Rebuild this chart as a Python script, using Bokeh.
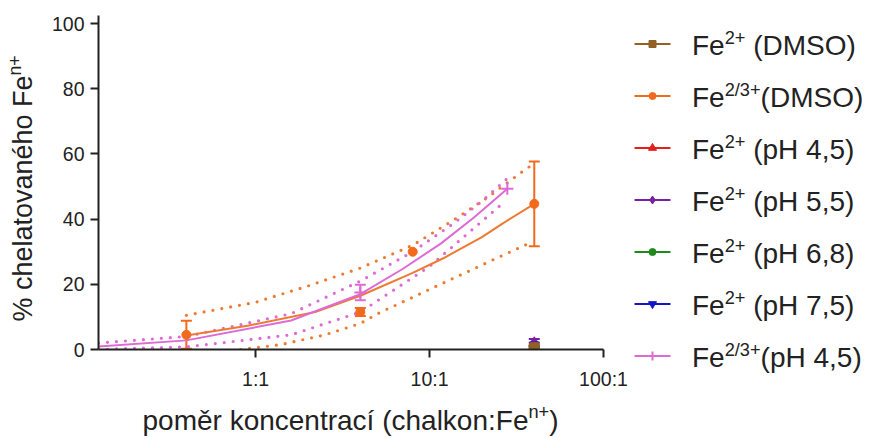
import numpy as np
from bokeh.plotting import figure
from bokeh.models import FixedTicker, Whisker, ColumnDataSource, TeeHead, Range1d
from bokeh.layouts import row, column
from bokeh.core.properties import value
from bokeh.embed import file_html
from bokeh.resources import INLINE

# ---------------- data ----------------
x_ticks = [1, 10, 100]
x_tick_labels = ["1:1", "10:1", "100:1"]
y_ticks = [0, 20, 40, 60, 80, 100]

# Fe2+ series measured only at 40:1
fe2_x = [40]
fe2_dmso_y = [0.7];   fe2_dmso_err = [0.4]
fe2_ph45_y = [0.8];   fe2_ph45_err = [0.5]
fe2_ph55_y = [2.2];   fe2_ph55_err = [1.0]
fe2_ph68_y = [0.6];   fe2_ph68_err = [0.3]
fe2_ph75_y = [1.5];   fe2_ph75_err = [0.6]

# Fe2/3+ (DMSO)
dmso23_x = [0.4, 4, 8, 40]
dmso23_y = [4.5, 11.5, 30.0, 44.7]
dmso23_err = [4.3, 1.2, 0.0, 13.0]
dmso23_fit_x = [0.4, 0.9, 2.2, 4, 8, 12, 20, 26, 40]
dmso23_fit_y = [4.3, 7.3, 11.5, 16.5, 23.5, 28.0, 34.5, 38.5, 44.7]
dmso23_hi_x = [0.4, 1, 2, 4, 8, 14, 22, 36, 40]
dmso23_hi_y = [10.5, 14.5, 19.5, 25.0, 32.0, 40.0, 47.0, 55.5, 57.0]
dmso23_lo_x = [0.82, 1.4, 2.5, 4, 5.2, 8, 11, 16, 24, 38]
dmso23_lo_y = [0.0, 1.5, 4.5, 8.0, 11.4, 16.0, 19.5, 23.5, 27.9, 32.8]

# Fe2/3+ (pH 4,5)
ph45_23_x = [4, 28]
ph45_23_y = [17.5, 49.3]
ph45_23_err = [2.4, 0.0]
ph45_23_fit_x = [0.125, 0.4, 1.6, 4, 7, 11.6, 18, 28]
ph45_23_fit_y = [0.9, 2.8, 8.9, 17.0, 24.7, 32.5, 40.5, 49.3]
ph45_23_hi_x = [0.125, 0.4, 1.6, 4, 8, 14, 20, 28]
ph45_23_hi_y = [2.0, 4.0, 11.0, 21.0, 30.0, 39.0, 45.5, 52.5]
ph45_23_lo_x = [0.125, 0.4, 1.6, 4, 10, 26]
ph45_23_lo_y = [0.0, 0.8, 4.5, 11.5, 25.5, 44.6]

# legend
leg_main = ["Fe"] * 7
leg_sup = ["2+", "2/3+", "2+", "2+", "2+", "2+", "2/3+"]
leg_rest = [" (DMSO)", "(DMSO)", " (pH 4,5)", " (pH 5,5)", " (pH 6,8)", " (pH 7,5)", "(pH 4,5)"]

# axis titles (main text, superscript, closing text)
xtitle = ["poměr koncentrací (chalkon:Fe", "n+", ")"]
ytitle = ["% chelatovaného Fe", "n+", ""]

# ---------------- styles ----------------
C_BROWN = "#936126"
C_ORANGE = "#F26A1B"
C_ORANGE_L = "#EE7A32"
C_RED = "#E3201C"
C_PURPLE = "#7B1FA2"
C_GREEN = "#1E8A1E"
C_BLUE = "#1616C4"
C_PINK = "#DE6AD6"
TXT = "#222222"
FONT = "Liberation Sans"
BASE_FIX = 0.41  # empirical shift (em) so that the given y is the alphabetic baseline

W = {'F': 611, 'e': 556, '2': 556, '3': 556, '/': 278, '+': 584, ' ': 278, '(': 333, ')': 333,
     'D': 722, 'M': 833, 'S': 667, 'O': 778, 'p': 556, 'H': 722, '4': 556, ',': 278, '5': 556,
     '6': 556, '8': 556, '7': 556, 'n': 556, 'o': 556, 'm': 833, 'ě': 556, 'r': 333, 'k': 500,
     'c': 500, 't': 278, 'a': 556, 'í': 278, 'h': 556, 'l': 222, ':': 278, '%': 889, 'v': 500,
     'é': 556}


def tw(s, size):
    return sum(W.get(ch, 556) for ch in s) / 1000.0 * size


def no_align(fig):
    try:
        fig.frame_align = False
    except Exception:
        pass


def blank_fig(w, h, xr, yr):
    f = figure(width=w, height=h, x_range=Range1d(*xr), y_range=Range1d(*yr),
               x_axis_location=None, y_axis_location=None, min_border=0,
               toolbar_location=None, output_backend="svg")
    f.outline_line_color = None
    f.grid.visible = False
    no_align(f)
    return f


LAB = 28


def sup_pieces(parts, size, x0):
    """pieces of a text with a superscript: (position along text, raise, text, size)"""
    sup = 0.65 * size
    raise_ = 0.43 * size
    out = []
    pos = x0
    for s, sz, r in zip(parts, [size, sup, size], [0, raise_, 0]):
        lead = len(s) - len(s.lstrip(" "))
        pos += tw(" " * lead, sz)
        s2 = s.strip(" ")
        if s2:
            out.append((pos, r + BASE_FIX * sz, s2, sz))
        pos += tw(s2, sz)
    return out, pos - x0


# ---------------- main plot ----------------
# page split: y-title 0..48, main 48..630, legend 630..871; x-title 400..439
p = figure(width=582, height=400, x_axis_type="log", x_range=Range1d(0.125, 100),
           y_range=Range1d(0, 102.5), output_backend="svg", toolbar_location=None,
           min_border_left=49, min_border_right=27, min_border_top=15, min_border_bottom=51)
p.outline_line_color = None
p.grid.visible = False
no_align(p)

for ax in (p.xaxis[0], p.yaxis[0]):
    ax.axis_line_width = 2
    ax.axis_line_color = TXT
    ax.major_tick_line_width = 2
    ax.major_tick_line_color = TXT
    ax.major_tick_out = 8
    ax.major_tick_in = 0
    ax.minor_tick_line_color = None
    ax.major_label_text_font = FONT
    ax.major_label_text_font_size = "19.5px"
    ax.major_label_text_color = TXT

p.xaxis.ticker = FixedTicker(ticks=x_ticks, minor_ticks=[])
p.xaxis.major_label_overrides = {t: l for t, l in zip(x_ticks, x_tick_labels)}
p.xaxis.major_label_standoff = 10
p.yaxis.ticker = FixedTicker(ticks=y_ticks, minor_ticks=[])
p.yaxis.major_label_standoff = 6

dot = dict(line_dash="0 9", line_cap="round", line_width=3.2)
p.line(dmso23_hi_x, dmso23_hi_y, line_color=C_ORANGE_L, **dot)
p.line(dmso23_lo_x, dmso23_lo_y, line_color=C_ORANGE_L, **dot)
p.line(ph45_23_hi_x, ph45_23_hi_y, line_color=C_PINK, **dot)
p.line(ph45_23_lo_x, ph45_23_lo_y, line_color=C_PINK, **dot)
p.line(dmso23_fit_x, dmso23_fit_y, line_color=C_ORANGE_L, line_width=2)
p.line(ph45_23_fit_x, ph45_23_fit_y, line_color=C_PINK, line_width=2)


def whiskers(xs, ys, es, color):
    sel = [(x, y, e) for x, y, e in zip(xs, ys, es) if e > 0]
    if not sel:
        return
    src = ColumnDataSource(dict(x=[s[0] for s in sel],
                                lo=[max(s[1] - s[2], 0) for s in sel],
                                hi=[s[1] + s[2] for s in sel]))
    w = Whisker(base="x", lower="lo", upper="hi", source=src, dimension="height",
                line_color=color, line_width=2,
                upper_head=TeeHead(size=11, line_color=color, line_width=2),
                lower_head=TeeHead(size=11, line_color=color, line_width=2))
    p.add_layout(w)


whiskers(dmso23_x, dmso23_y, dmso23_err, C_ORANGE)
whiskers(ph45_23_x, ph45_23_y, ph45_23_err, C_PINK)
whiskers(fe2_x, fe2_ph55_y, fe2_ph55_err, C_PURPLE)
whiskers(fe2_x, fe2_ph75_y, fe2_ph75_err, C_BLUE)
whiskers(fe2_x, fe2_ph45_y, fe2_ph45_err, C_RED)
whiskers(fe2_x, fe2_ph68_y, fe2_ph68_err, C_GREEN)
whiskers(fe2_x, fe2_dmso_y, fe2_dmso_err, C_BROWN)

p.scatter(dmso23_x, dmso23_y, marker="circle", size=9, fill_color=C_ORANGE, line_color=C_ORANGE)
p.scatter(ph45_23_x, ph45_23_y, marker="cross", size=12, line_color=C_PINK, line_width=2)
p.scatter(fe2_x, fe2_ph55_y, marker="diamond", size=11, fill_color=C_PURPLE, line_color=C_PURPLE)
p.scatter(fe2_x, fe2_ph75_y, marker="inverted_triangle", size=9, fill_color=C_BLUE, line_color=C_BLUE)
p.scatter(fe2_x, fe2_ph45_y, marker="triangle", size=9, fill_color=C_RED, line_color=C_RED)
p.scatter(fe2_x, fe2_ph68_y, marker="circle", size=8, fill_color=C_GREEN, line_color=C_GREEN)
p.scatter(fe2_x, fe2_dmso_y, marker="square", size=9, fill_color=C_BROWN, line_color=C_BROWN)

# ---------------- y title panel ----------------
yl = blank_fig(48, 400, (0, 48), (400, 0))
YLAB = 27
pieces, total = sup_pieces(ytitle, YLAB, 0)
start = 188 + total / 2
yl.text(x=[33.5 - r for _, r, _, _ in pieces], y=[start - pos for pos, _, _, _ in pieces],
        text=[t for _, _, t, _ in pieces], text_font_size=[f"{sz:.1f}px" for *_, sz in pieces],
        text_font=value(FONT), text_color=TXT, text_baseline="alphabetic",
        text_align="left", angle=np.pi / 2)

# ---------------- x title panel ----------------
xl = blank_fig(871, 39, (0, 871), (439, 400))
pieces, total = sup_pieces(xtitle, LAB, 0)
start = 350 - total / 2
xl.text(x=[start + pos for pos, _, _, _ in pieces], y=[431 - r for _, r, _, _ in pieces],
        text=[t for _, _, t, _ in pieces], text_font_size=[f"{sz:.1f}px" for *_, sz in pieces],
        text_font=value(FONT), text_color=TXT, text_baseline="alphabetic", text_align="left")

# ---------------- legend panel ----------------
lg = blank_fig(241, 400, (630, 871), (400, 0))

leg_colors = [C_BROWN, C_ORANGE, C_RED, C_PURPLE, C_GREEN, C_BLUE, C_PINK]
leg_markers = ["square", "circle", "triangle", "diamond", "circle", "inverted_triangle", "cross"]
leg_sizes = [7, 7, 8, 8, 7, 8, 9]
row_y = [43.5 + 52 * i for i in range(7)]

lg.segment(x0=[634] * 7, y0=row_y, x1=[670] * 7, y1=row_y, line_color=leg_colors, line_width=2)
for i in range(7):
    if leg_markers[i] == "cross":
        lg.scatter([652], [row_y[i]], marker="cross", size=leg_sizes[i],
                   line_color=leg_colors[i], line_width=2)
    else:
        lg.scatter([652], [row_y[i]], marker=leg_markers[i], size=leg_sizes[i],
                   fill_color=leg_colors[i], line_color=leg_colors[i])

tx, ty, tt, ts = [], [], [], []
for i in range(7):
    pieces, _ = sup_pieces([leg_main[i], leg_sup[i], leg_rest[i]], LAB, 691.5)
    base = row_y[i] + 13.3
    for pos, r, t, sz in pieces:
        tx.append(pos); ty.append(base - r); tt.append(t); ts.append(f"{sz:.1f}px")

lg.text(x=tx, y=ty, text=tt, text_font=value(FONT), text_font_size=ts, text_color=TXT,
        text_baseline="alphabetic", text_align="left")

layout = column(row(yl, p, lg), xl)
open("out.html", "w").write(file_html(layout, INLINE))
